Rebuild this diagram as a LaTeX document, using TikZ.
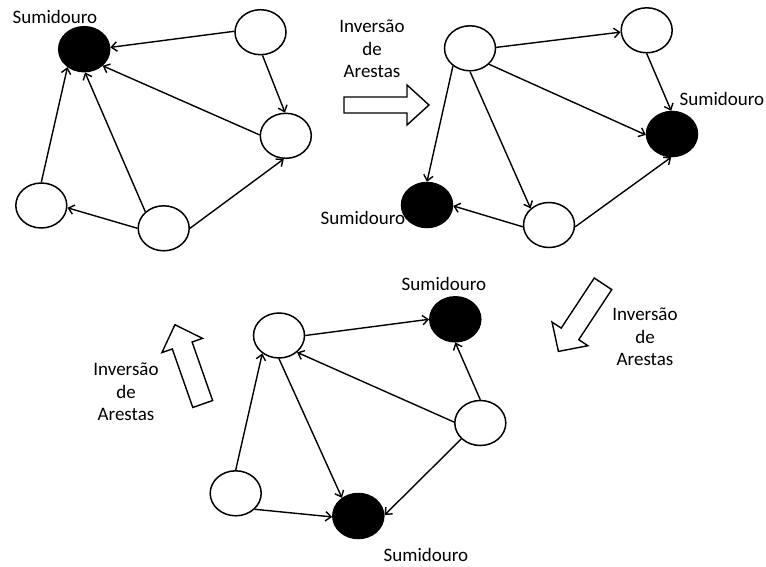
\documentclass[tikz,border=0pt]{standalone}
\usepackage{fontspec}
\setmainfont{Carlito}
\usetikzlibrary{arrows.meta,shapes.geometric}

\begin{document}
\begin{tikzpicture}[x=1pt,y=-1pt,
  vert/.style={ellipse,draw,line width=1.5pt,fill=white,minimum width=51pt,minimum height=45pt,inner sep=0pt},
  sink/.style={vert,fill=black},
  edge/.style={line width=1.4pt,-{Straight Barb[length=5.5pt,width=9.5pt]}},
  lbl/.style={font=\fontsize{19}{22.5}\selectfont,inner sep=0pt},
  note/.style={lbl,align=center},
  pics/blockarrow/.style n args={4}{code={
    \draw[line width=1.4pt,fill=white]
      (0,-#2) -- ({#1-#4},-#2) -- ({#1-#4},-#3) -- (#1,0)
      -- ({#1-#4},#3) -- ({#1-#4},#2) -- (0,#2) -- cycle;}}
]
\fill[white] (0,0) rectangle (766,567);
\useasboundingbox (0,0) rectangle (766,567);

% ---------- labels ----------
\node[lbl] (lab1)  at (55,17)   {Sumidouro};
\node[lbl] (lab2r) at (722,99)  {Sumidouro};
\node[lbl] (lab2l) at (363,218) {Sumidouro};
\node[lbl] (lab3t) at (444,284) {Sumidouro};
\node[lbl] (lab3b) at (426,555) {Sumidouro};

\node[note] (inv1) at (372,49)  {Inversão\\de\\Arestas};
\node[note] (inv2) at (645,337) {Inversão\\de\\Arestas};
\node[note] (inv3) at (126,392) {Inversão\\de\\Arestas};

% ---------- transition arrows ----------
\pic[rotate=0]      at (344,105)   {blockarrow={85}{8}{20}{22}};
\pic[rotate=-123.4] at (603,283.8) {blockarrow={81}{10.5}{21.5}{21}};
\pic[rotate=109.3]  at (202.7,404) {blockarrow={84}{10.5}{21.5}{22}};

% ---------- first graph ----------
\node[sink] (S1) at (84.2,49.2)  {};
\node[vert] (T)  at (260.5,32.2) {};
\node[vert] (R)  at (285.8,135.8) {};
\node[vert] (L)  at (41.3,205.5) {};
\node[vert] (B)  at (163.7,228.3) {};

\draw[edge] (T.178) -- (S1.4);
\draw[edge] (T.-85) -- (R.92);
\draw[edge] (R.178) -- (S1.-42);
\draw[edge] (B.0)   -- (R.-95);
\draw[edge] (B.138) -- (S1.-88);
\draw[edge] (B.180) -- (L.-5);
\draw[edge] (L.90)  -- (S1.227);

% ---------- second graph ----------
\node[vert] (A)  at (470,48.3)  {};
\node[vert] (TR) at (646.7,30.3) {};
\node[sink] (SR) at (672,134)   {};
\node[sink] (SL) at (427,205)   {};
\node[vert] (Bm) at (549,225)   {};

\draw[edge] (A.2)    -- (TR.184);
\draw[edge] (TR.-90) -- (SR.92);
\draw[edge] (A.-40)  -- (SR.182);
\draw[edge] (A.226)  -- (SL.90);
\draw[edge] (A.-90)  -- (Bm.138);
\draw[edge] (Bm.184) -- (SL.-2);
\draw[edge] (Bm.-4)  -- (SR.-92);

% ---------- third graph ----------
\node[vert] (TL) at (279,335.5)   {};
\node[sink] (ST) at (455.3,319.3) {};
\node[vert] (RW) at (480.3,423)   {};
\node[vert] (BL) at (235.7,493.3) {};
\node[sink] (SB) at (358.3,516)   {};

\draw[edge] (TL.0)   -- (ST.180);
\draw[edge] (RW.90)  -- (ST.-90);
\draw[edge] (RW.178) -- (TL.-43);
\draw[edge] (RW.220) -- (SB.2);
\draw[edge] (TL.-90) -- (SB.132);
\draw[edge] (BL.90)  -- (TL.227);
\draw[edge] (BL.-40) -- (SB.182);
\end{tikzpicture}
\end{document}
